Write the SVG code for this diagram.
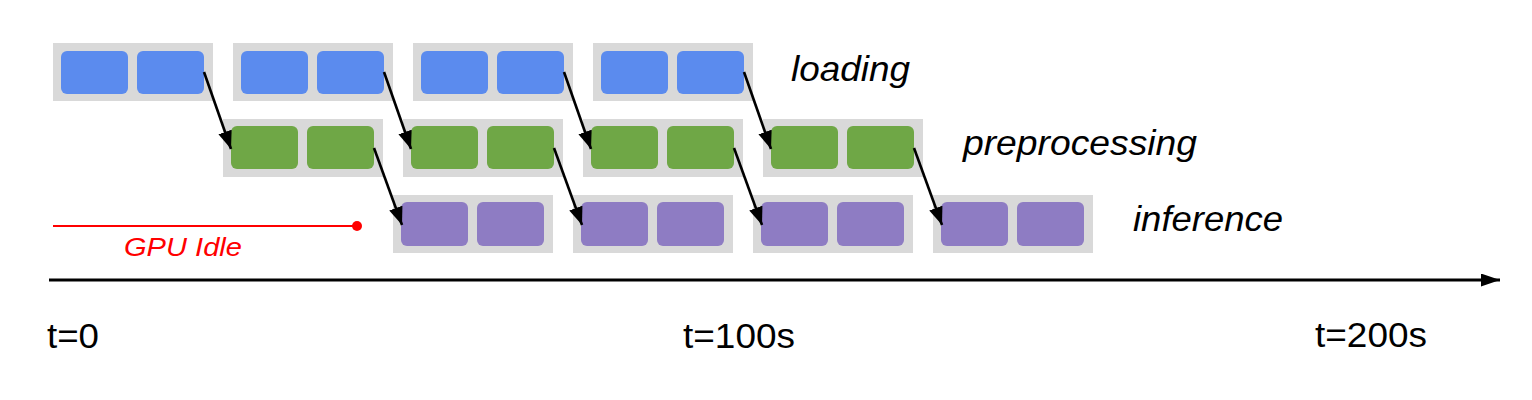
<svg xmlns="http://www.w3.org/2000/svg" width="1532" height="400" viewBox="0 0 1532 400">
<style>
.bg{fill:#d9d9d9}
.ld{fill:#5b8bee}
.pp{fill:#6fa746}
.inf{fill:#8e7cc3}
.lbl{font-family:"Liberation Sans",Arial,sans-serif;font-style:italic;font-size:35px;fill:#000}
.tk{font-family:"Liberation Sans",Arial,sans-serif;font-size:35px;fill:#000}
.conn{stroke:#000;stroke-width:2.6;fill:none}
</style>
<defs>
<marker id="ah" markerUnits="userSpaceOnUse" markerWidth="20" markerHeight="16" refX="18" refY="7" orient="auto">
<path d="M0,0 L18,7 L0,14 z" fill="#000"/>
</marker>
<marker id="axh" markerUnits="userSpaceOnUse" markerWidth="20" markerHeight="14" refX="19" refY="6.5" orient="auto">
<path d="M0,0 L19,6.5 L0,13 z" fill="#000"/>
</marker>
</defs>
<rect width="1532" height="400" fill="#fff"/>

<g id="loading1"><rect class="bg" x="53" y="43" width="160" height="58"/><rect class="ld" x="61" y="51" width="67" height="43" rx="6"/><rect class="ld" x="137" y="51" width="67" height="43" rx="6"/></g>
<g id="loading2"><rect class="bg" x="233" y="43" width="160" height="58"/><rect class="ld" x="241" y="51" width="67" height="43" rx="6"/><rect class="ld" x="317" y="51" width="67" height="43" rx="6"/></g>
<g id="loading3"><rect class="bg" x="413" y="43" width="160" height="58"/><rect class="ld" x="421" y="51" width="67" height="43" rx="6"/><rect class="ld" x="497" y="51" width="67" height="43" rx="6"/></g>
<g id="loading4"><rect class="bg" x="593" y="43" width="160" height="58"/><rect class="ld" x="601" y="51" width="67" height="43" rx="6"/><rect class="ld" x="677" y="51" width="67" height="43" rx="6"/></g>

<g id="pre1"><rect class="bg" x="223" y="119" width="160" height="58"/><rect class="pp" x="231" y="126" width="67" height="43" rx="6"/><rect class="pp" x="307" y="126" width="67" height="43" rx="6"/></g>
<g id="pre2"><rect class="bg" x="403" y="119" width="160" height="58"/><rect class="pp" x="411" y="126" width="67" height="43" rx="6"/><rect class="pp" x="487" y="126" width="67" height="43" rx="6"/></g>
<g id="pre3"><rect class="bg" x="583" y="119" width="160" height="58"/><rect class="pp" x="591" y="126" width="67" height="43" rx="6"/><rect class="pp" x="667" y="126" width="67" height="43" rx="6"/></g>
<g id="pre4"><rect class="bg" x="763" y="119" width="160" height="58"/><rect class="pp" x="771" y="126" width="67" height="43" rx="6"/><rect class="pp" x="847" y="126" width="67" height="43" rx="6"/></g>

<g id="inf1"><rect class="bg" x="393" y="195" width="160" height="58"/><rect class="inf" x="401" y="202" width="67" height="44" rx="6"/><rect class="inf" x="477" y="202" width="67" height="44" rx="6"/></g>
<g id="inf2"><rect class="bg" x="573" y="195" width="160" height="58"/><rect class="inf" x="581" y="202" width="67" height="44" rx="6"/><rect class="inf" x="657" y="202" width="67" height="44" rx="6"/></g>
<g id="inf3"><rect class="bg" x="753" y="195" width="160" height="58"/><rect class="inf" x="761" y="202" width="67" height="44" rx="6"/><rect class="inf" x="837" y="202" width="67" height="44" rx="6"/></g>
<g id="inf4"><rect class="bg" x="933" y="195" width="160" height="58"/><rect class="inf" x="941" y="202" width="67" height="44" rx="6"/><rect class="inf" x="1017" y="202" width="67" height="44" rx="6"/></g>

<g id="connectors">
<line class="conn" x1="204" y1="72" x2="231" y2="149" marker-end="url(#ah)"/>
<line class="conn" x1="384" y1="72" x2="411" y2="149" marker-end="url(#ah)"/>
<line class="conn" x1="564" y1="72" x2="591" y2="149" marker-end="url(#ah)"/>
<line class="conn" x1="744" y1="72" x2="771" y2="149" marker-end="url(#ah)"/>
<line class="conn" x1="374" y1="148" x2="402" y2="225" marker-end="url(#ah)"/>
<line class="conn" x1="554" y1="148" x2="582" y2="225" marker-end="url(#ah)"/>
<line class="conn" x1="734" y1="148" x2="762" y2="225" marker-end="url(#ah)"/>
<line class="conn" x1="914" y1="148" x2="942" y2="225" marker-end="url(#ah)"/>
</g>

<g id="labels">
<text class="lbl" x="791" y="81" textLength="119" lengthAdjust="spacingAndGlyphs">loading</text>
<text class="lbl" x="963" y="155" textLength="234" lengthAdjust="spacingAndGlyphs">preprocessing</text>
<text class="lbl" x="1133" y="231" textLength="150" lengthAdjust="spacingAndGlyphs">inference</text>
</g>

<g id="gpu-idle">
<line x1="53" y1="226" x2="357" y2="226" stroke="#ff0000" stroke-width="2.2"/>
<circle cx="357" cy="226" r="5" fill="#ff0000"/>
<text x="124" y="256" font-family="Liberation Sans, Arial, sans-serif" font-style="italic" font-size="26" fill="#ff0000" textLength="118" lengthAdjust="spacingAndGlyphs">GPU Idle</text>
</g>

<g id="axis">
<line x1="49" y1="280" x2="1500" y2="280" stroke="#000" stroke-width="3" marker-end="url(#axh)"/>
<text class="tk" x="47" y="348" textLength="52" lengthAdjust="spacingAndGlyphs">t=0</text>
<text class="tk" x="683" y="348" textLength="112" lengthAdjust="spacingAndGlyphs">t=100s</text>
<text class="tk" x="1315" y="347" textLength="112" lengthAdjust="spacingAndGlyphs">t=200s</text>
</g>
</svg>
